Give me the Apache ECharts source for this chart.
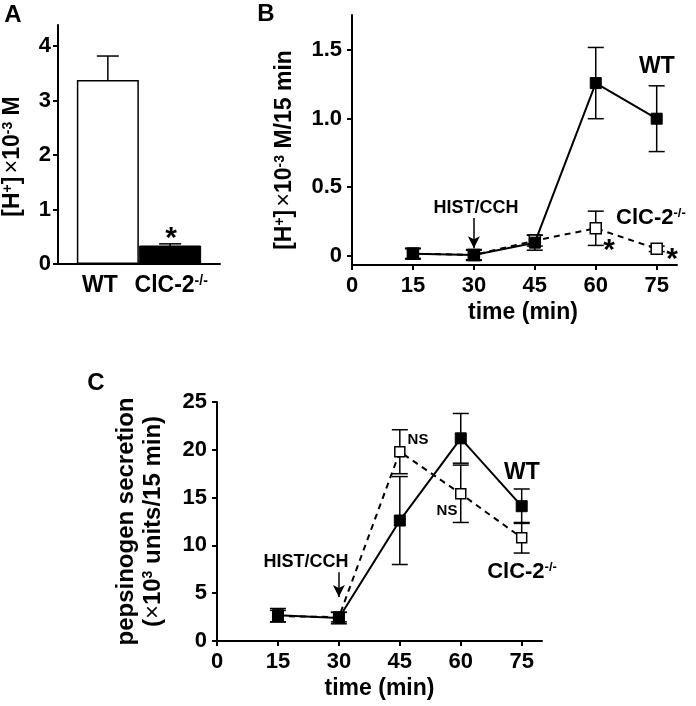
<!DOCTYPE html>
<html><head><meta charset="utf-8">
<script src="https://cdn.jsdelivr.net/npm/echarts@6/dist/echarts.min.js"></script>
<style>html,body{margin:0;padding:0;background:#fff}#c{width:696px;height:706px}</style>
</head><body><div id="c"></div>
<script>
// ---------- data ----------
const barCategories = ['WT', 'ClC-2-/-'];
const barValues = [3.38, 0.34];
const barErrors = [0.44, 0.03];
const barTicks = [0, 1, 2, 3, 4];

const timeTicks = [0, 15, 30, 45, 60, 75];
const times = [15, 30, 45, 60, 75];
const acidWT = [0.015, 0.005, 0.095, 1.26, 1.00];
const acidWTErr = [0.04, 0.04, 0.055, 0.26, 0.24];
const acidKO = [0.015, 0.005, 0.11, 0.20, 0.05];
const acidKOErr = [0.035, 0.035, 0.04, 0.125, 0.02];
const acidTicks = [0, 0.5, 1.0, 1.5];

const pepWT = [2.7, 2.4, 12.6, 21.2, 14.1];
const pepWTErr = [0.7, 0.6, 4.6, 2.6, 1.8];
const pepKO = [2.6, 2.5, 19.8, 15.4, 10.8];
const pepKOErr = [0.6, 0.5, 2.3, 3.0, 1.6];
const pepTicks = [0, 5, 10, 15, 20, 25];

// ---------- helpers ----------
const FONT = 'Liberation Sans';
const supify = s => s.replace(/^(.*?)(-\/-)?$/, (m, a, b) => '{b|' + a + '}' + (b ? '{sup|' + b + '}' : ''));
const richSet = (size) => ({
  sup: {fontFamily: FONT, fontWeight: 'bold', fontSize: Math.round(size * 0.6), padding: [0, 0, Math.round(size * 0.45), 0], color: '#000'},
  x: {fontFamily: FONT, fontWeight: 'normal', fontSize: size, color: '#000'},
  b: {fontFamily: FONT, fontWeight: 'bold', fontSize: size, color: '#000'}
});
const axisLineStyle = {show: true, onZero: false, lineStyle: {color: '#000', width: 2}};
const tickStyle = {show: true, length: 5, lineStyle: {color: '#000', width: 2}};

function errorBars(capHalf) {
  return function (params, api) {
    const x = api.value(0), y = api.value(1), e = api.value(2);
    const hi = api.coord([x, y + e]);
    const lo = api.coord([x, y - e]);
    const style = {stroke: '#000', lineWidth: 1.5, fill: null};
    return {type: 'group', children: [
      {type: 'line', shape: {x1: hi[0], y1: hi[1], x2: lo[0], y2: lo[1]}, style},
      {type: 'line', shape: {x1: hi[0] - capHalf, y1: hi[1], x2: hi[0] + capHalf, y2: hi[1]}, style},
      {type: 'line', shape: {x1: lo[0] - capHalf, y1: lo[1], x2: lo[0] + capHalf, y2: lo[1]}, style}
    ]};
  };
}
const triples = (xs, ys, es) => xs.map((x, i) => [x, ys[i], es[i]]);
const pairs = (xs, ys) => xs.map((x, i) => [x, ys[i]]);

const timeAxis = (gi, nameGap, namePad) => ({
  type: 'value', gridIndex: gi, min: 0, max: 80,
  axisLine: axisLineStyle, axisTick: Object.assign({customValues: timeTicks}, tickStyle),
  splitLine: {show: false},
  axisLabel: {customValues: timeTicks, margin: 10, fontFamily: FONT, fontWeight: 'bold', fontSize: 22, color: '#000'},
  name: 'time (min)', nameLocation: 'middle', nameGap: nameGap,
  nameTextStyle: {fontFamily: FONT, fontWeight: 'bold', fontSize: 23, color: '#000', padding: namePad}
});

const catRich = Object.assign(richSet(23), {
  l: {fontFamily: FONT, fontWeight: 'bold', fontSize: 23, color: '#000', padding: [0, 16, 0, 0]},
  r: {fontFamily: FONT, fontWeight: 'bold', fontSize: 23, color: '#000', padding: [0, 0, 0, 2]}
});

const option = {
  animation: false,
  backgroundColor: '#fff',
  grid: [
    {left: 58, top: 25, width: 162, height: 239},
    {left: 352, top: 15, width: 325, height: 250},
    {left: 217, top: 402, width: 325, height: 239}
  ],
  xAxis: [
    {
      type: 'value', gridIndex: 0, min: -0.8, max: 1.8,
      axisLine: axisLineStyle, axisTick: {show: false}, splitLine: {show: false},
      axisLabel: {customValues: [0, 1], margin: 10,
        formatter: v => {
          const s = supify(barCategories[Math.round(v)]);
          return Math.round(v) === 0 ? s.replace('{b|', '{l|') : s.replace('{b|', '{r|');
        },
        fontFamily: FONT, fontWeight: 'bold', fontSize: 23, color: '#000', rich: catRich}
    },
    timeAxis(1, 36, [0, 0, 0, 17]),
    timeAxis(2, 36, [0, 0, 0, 0])
  ],
  yAxis: [
    {
      type: 'value', gridIndex: 0, min: 0, max: 4.39,
      axisLine: axisLineStyle, axisTick: Object.assign({customValues: barTicks}, tickStyle),
      splitLine: {show: false},
      axisLabel: {customValues: barTicks, margin: 7, fontFamily: FONT, fontWeight: 'bold', fontSize: 22, color: '#000'},
      name: '{b|[H}{sup|+}{b|]} {x|×}{b|10}{sup|-3}{b| M}', nameLocation: 'middle', nameRotate: 90, nameGap: 33,
      nameTextStyle: {padding: [0, 24, 0, 0], rich: richSet(23)}
    },
    {
      type: 'value', gridIndex: 1, min: -0.068, max: 1.757,
      axisLine: axisLineStyle, axisTick: Object.assign({customValues: acidTicks}, tickStyle),
      splitLine: {show: false},
      axisLabel: {customValues: acidTicks, margin: 10, formatter: v => v === 0 ? '0' : v.toFixed(1),
        fontFamily: FONT, fontWeight: 'bold', fontSize: 22, color: '#000'},
      name: '{b|[H}{sup|+}{b|]} {x|×}{b|10}{sup|-3}{b| M/15 min}', nameLocation: 'middle', nameRotate: 90, nameGap: 55,
      nameTextStyle: {padding: [0, 20, 0, 0], rich: richSet(23)}
    },
    {
      type: 'value', gridIndex: 2, min: 0, max: 25,
      axisLine: axisLineStyle, axisTick: Object.assign({customValues: pepTicks}, tickStyle),
      splitLine: {show: false},
      axisLabel: {customValues: pepTicks, margin: 10, fontFamily: FONT, fontWeight: 'bold', fontSize: 22, color: '#000'},
      name: '{b|pepsinogen secretion}\n{b|(}{x|×}{b|10}{sup|3}{b| units/15 min)}', nameLocation: 'middle', nameRotate: 90, nameGap: 50,
      nameTextStyle: {lineHeight: 27, rich: richSet(24)}
    }
  ],
  series: [
    // ---- Panel A ----
    {type: 'custom', xAxisIndex: 0, yAxisIndex: 0, z: 1,
      renderItem: errorBars(11), data: triples([0, 1], barValues, barErrors)},
    {type: 'bar', xAxisIndex: 0, yAxisIndex: 0, z: 2, barWidth: 62,
      data: barValues.map((v, i) => ({value: [i, v],
        itemStyle: i === 0 ? {color: '#fff', borderColor: '#000', borderWidth: 1.5} : {color: '#000', borderColor: '#000', borderWidth: 1}}))},
    // ---- Panel B ----
    {type: 'custom', xAxisIndex: 1, yAxisIndex: 1, z: 3, renderItem: errorBars(8), data: triples(times, acidKO, acidKOErr)},
    {type: 'custom', xAxisIndex: 1, yAxisIndex: 1, z: 3, renderItem: errorBars(8), data: triples(times, acidWT, acidWTErr)},
    {type: 'line', xAxisIndex: 1, yAxisIndex: 1, z: 4, data: pairs(times, acidKO),
      symbol: 'rect', symbolSize: 11, lineStyle: {color: '#000', width: 2, type: [6, 5]},
      itemStyle: {color: '#fff', borderColor: '#000', borderWidth: 1.5}},
    {type: 'line', xAxisIndex: 1, yAxisIndex: 1, z: 5, data: pairs(times, acidWT),
      symbol: 'rect', symbolSize: 11, lineStyle: {color: '#000', width: 2},
      itemStyle: {color: '#000', borderColor: '#000'},
      markLine: {silent: true, symbol: ['none', 'arrow'], symbolSize: [9, 12], label: {show: false},
        lineStyle: {color: '#000', width: 1.5, type: 'solid'},
        data: [[{coord: [30, 0.275]}, {coord: [30, 0.055]}]]}},
    // ---- Panel C ----
    {type: 'custom', xAxisIndex: 2, yAxisIndex: 2, z: 3, renderItem: errorBars(8), data: triples(times, pepKO, pepKOErr)},
    {type: 'custom', xAxisIndex: 2, yAxisIndex: 2, z: 3, renderItem: errorBars(8), data: triples(times, pepWT, pepWTErr)},
    {type: 'line', xAxisIndex: 2, yAxisIndex: 2, z: 4, data: pairs(times, pepKO),
      symbol: 'rect', symbolSize: 10, lineStyle: {color: '#000', width: 2, type: [6, 5]},
      itemStyle: {color: '#fff', borderColor: '#000', borderWidth: 1.5}},
    {type: 'line', xAxisIndex: 2, yAxisIndex: 2, z: 5, data: pairs(times, pepWT),
      symbol: 'rect', symbolSize: 11, lineStyle: {color: '#000', width: 2},
      itemStyle: {color: '#000', borderColor: '#000'},
      markLine: {silent: true, symbol: ['none', 'arrow'], symbolSize: [9, 12], label: {show: false},
        lineStyle: {color: '#000', width: 1.5, type: 'solid'},
        data: [[{coord: [30, 7.2]}, {coord: [30, 4.6]}]]}}
  ],
  graphic: [
    {type: 'text', style: {text: 'A', x: 13, y: 15, align: 'center', verticalAlign: 'middle', font: 'bold 24px "Liberation Sans"', fill: '#000'}},
    {type: 'text', style: {text: 'B', x: 266, y: 14, align: 'center', verticalAlign: 'middle', font: 'bold 24px "Liberation Sans"', fill: '#000'}},
    {type: 'text', style: {text: 'C', x: 96, y: 383, align: 'center', verticalAlign: 'middle', font: 'bold 24px "Liberation Sans"', fill: '#000'}},
    {type: 'text', style: {text: '*', x: 171, y: 239, align: 'center', verticalAlign: 'middle', font: 'bold 30px "Liberation Sans"', fill: '#000'}},
    {type: 'text', style: {text: 'HIST/CCH', x: 476, y: 208, align: 'center', verticalAlign: 'middle', font: 'bold 18px "Liberation Sans"', fill: '#000'}},
    {type: 'text', style: {text: 'WT', x: 657, y: 67, align: 'center', verticalAlign: 'middle', font: 'bold 23px "Liberation Sans"', fill: '#000'}},
    {type: 'text', style: {text: '{b|ClC-2}{sup|-/-}', x: 616, y: 218, align: 'left', verticalAlign: 'middle', rich: richSet(22)}},
    {type: 'text', style: {text: '*', x: 609, y: 251, align: 'center', verticalAlign: 'middle', font: 'bold 30px "Liberation Sans"', fill: '#000'}},
    {type: 'text', style: {text: '*', x: 672, y: 260, align: 'center', verticalAlign: 'middle', font: 'bold 30px "Liberation Sans"', fill: '#000'}},
    {type: 'text', style: {text: 'HIST/CCH', x: 306, y: 562, align: 'center', verticalAlign: 'middle', font: 'bold 18px "Liberation Sans"', fill: '#000'}},
    {type: 'text', style: {text: 'NS', x: 418, y: 440, align: 'center', verticalAlign: 'middle', font: 'bold 15px "Liberation Sans"', fill: '#000'}},
    {type: 'text', style: {text: 'NS', x: 447, y: 511, align: 'center', verticalAlign: 'middle', font: 'bold 15px "Liberation Sans"', fill: '#000'}},
    {type: 'text', style: {text: 'WT', x: 522, y: 473, align: 'center', verticalAlign: 'middle', font: 'bold 23px "Liberation Sans"', fill: '#000'}},
    {type: 'text', style: {text: '{b|ClC-2}{sup|-/-}', x: 522, y: 572, align: 'center', verticalAlign: 'middle', rich: richSet(22)}}
  ]
};
const chart = echarts.init(document.getElementById('c'), null, {renderer: 'canvas'});
chart.setOption(option);
</script>
</body></html>
